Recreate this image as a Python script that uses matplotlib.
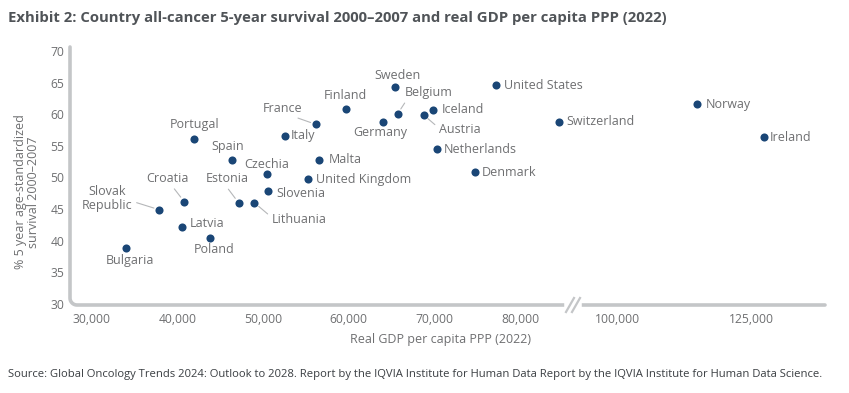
import numpy as np
import matplotlib
matplotlib.use("Agg")
import matplotlib.pyplot as plt
from matplotlib.lines import Line2D

# data
countries = ["Bulgaria", "Slovak\nRepublic", "Croatia", "Latvia", "Poland",
             "Portugal", "Spain", "Estonia", "Lithuania", "Czechia",
             "Slovenia", "Italy", "United Kingdom", "France", "Malta",
             "Finland", "Germany", "Sweden", "Belgium", "Austria", "Iceland",
             "Netherlands", "Denmark", "United States", "Switzerland",
             "Norway", "Ireland"]
gdp = [34000, 37900, 40800, 40500, 43800,
       42000, 46400, 47150, 49000, 50500,
       50550, 52550, 55200, 56150, 56550,
       59650, 63950, 65350, 65700, 68700, 69850,
       70300, 74700, 77150, 84500,
       114700, 127300]
survival = [38.8, 44.9, 46.2, 42.1, 40.5,
            56.1, 52.8, 46.0, 46.0, 50.5,
            47.8, 56.6, 49.7, 58.4, 52.8,
            60.9, 58.8, 64.3, 60.1, 59.9, 60.7,
            54.5, 50.8, 64.6, 58.8,
            61.6, 56.4]
xticks = [30000, 40000, 50000, 60000, 70000, 80000, 100000, 125000]
yticks = [30, 35, 40, 45, 50, 55, 60, 65, 70]

# label layout: (dx, dy) in pixels from the dot (dy down), alignment, leader
layout = {
    "Bulgaria": (4, 12, "center", None),
    "Slovak\nRepublic": (-52, -11, "center", (1.0, 0.4)),
    "Croatia": (-17, -23, "center", (0.6, 0.0)),
    "Latvia": (8, -4, "left", None),
    "Poland": (4, 12, "center", None),
    "Portugal": (0, -14, "center", None),
    "Spain": (-4, -13, "center", None),
    "Estonia": (-11, -24, "center", (0.45, 0.0)),
    "Lithuania": (17, 17, "left", (0.0, 0.7)),
    "Czechia": (-1, -10, "center", None),
    "Slovenia": (9, 2, "left", None),
    "Italy": (6, 0, "left", None),
    "United Kingdom": (8, 0, "left", None),
    "France": (-33, -16, "center", (0.65, 0.0)),
    "Malta": (9, 0, "left", None),
    "Finland": (0, -13, "center", None),
    "Germany": (-3, 11, "center", None),
    "Sweden": (3, -12, "center", None),
    "Belgium": (31, -21, "center", (0.05, 0.0)),
    "Austria": (36, 15, "center", (0.0, 0.65)),
    "Iceland": (8, 0, "left", None),
    "Netherlands": (7, 0, "left", None),
    "Denmark": (7, 0, "left", None),
    "United States": (8, 0, "left", None),
    "Switzerland": (7, 0, "left", None),
    "Norway": (9, 0, "left", None),
    "Ireland": (6, 0, "left", None),
}

# broken x axis: linear up to B1, compressed after B2
B1, B2, K = 86100.0, 91600.0, 0.6247


def fwd(v):
    v = np.asarray(v, dtype=float)
    return np.where(v <= B1, v, np.where(v >= B2, B1 + (v - B2) * K, B1))


def inv(u):
    u = np.asarray(u, dtype=float)
    return np.where(u <= B1, u, B2 + (u - B1) / K)


DOT = "#1a4676"
TXT = "#6e6f71"
AXC = "#c4c6c8"
plt.rcParams["font.family"] = ["Open Sans", "DejaVu Sans"]

W, H = 849, 393
fig = plt.figure(figsize=(W / 100, H / 100), dpi=100)
L, R, T, B = 70, 825, 47, 305
ax = fig.add_axes([L / W, 1 - B / H, (R - L) / W, (B - T) / H])
ax.set_xscale("function", functions=(fwd, inv))
ax.set_xlim(27500, 138650)
ax.set_ylim(29.84, 70.63)
for s in ax.spines.values():
    s.set_visible(False)

ax.scatter(gdp, survival, s=34, color=DOT, zorder=3, linewidths=0)

for name, x, y in zip(countries, gdp, survival):
    dx, dy, ha, rel = layout[name]
    kw = {}
    if rel is not None:
        kw["arrowprops"] = dict(arrowstyle="-", color="#b5b7b9", lw=0.8,
                                shrinkA=1, shrinkB=4, relpos=rel)
    ax.annotate(name, (x, y), xytext=(dx, -dy), textcoords="offset pixels",
                ha=ha, va="center", fontsize=9, color=TXT,
                multialignment="center", linespacing=1.05, **kw)

ax.set_xticks(xticks)
ax.set_xticklabels([f"{t:,}" for t in xticks])
ax.set_yticks(yticks)
ax.tick_params(length=0, labelsize=8.7, labelcolor=TXT)
ax.tick_params(axis="x", pad=6)
ax.tick_params(axis="y", pad=4)

# L-shaped axis line with a rounded corner, drawn in pixel space
r = 7
t = np.linspace(np.pi, 1.5 * np.pi, 12)
px = np.concatenate([[L], L + r + r * np.cos(t), [R]])
py = np.concatenate([[T], B - r - r * np.sin(t), [B]])
fig.add_artist(Line2D(px / W, 1 - py / H, color=AXC, lw=2.6,
                      solid_capstyle="round", solid_joinstyle="round"))

# axis break marks
bx = 573
fig.add_artist(Line2D([(bx - 6) / W, (bx + 6) / W],
                      [1 - B / H, 1 - B / H], color="white", lw=4))
for off in (-3, 3):
    fig.add_artist(Line2D([(bx + off - 4) / W, (bx + off + 4) / W],
                          [1 - (B + 7) / H, 1 - (B - 7) / H],
                          color=AXC, lw=1.6))

fig.text(27.5 / W, 1 - 192 / H, "% 5 year age-standardized\nsurvival 2000–2007",
         rotation=90, ha="center", va="center", fontsize=9, color=TXT,
         multialignment="center", linespacing=1.0)
fig.text(441 / W, 1 - 339 / H, "Real GDP per capita PPP (2022)",
         ha="center", va="center", fontsize=9, color=TXT)
fig.text(8 / W, 1 - 18 / H,
         "Exhibit 2: Country all-cancer 5-year survival 2000–2007 and real "
         "GDP per capita PPP (2022)",
         ha="left", va="center", fontsize=10.7, fontweight="bold",
         color="#505458")
fig.text(8 / W, 1 - 374 / H,
         "Source: Global Oncology Trends 2024: Outlook to 2028. Report by the "
         "IQVIA Institute for Human Data Report by the IQVIA Institute for "
         "Human Data Science.",
         ha="left", va="center", fontsize=8.1, color="#3a3e42")

fig.savefig("out.png", dpi=100)
